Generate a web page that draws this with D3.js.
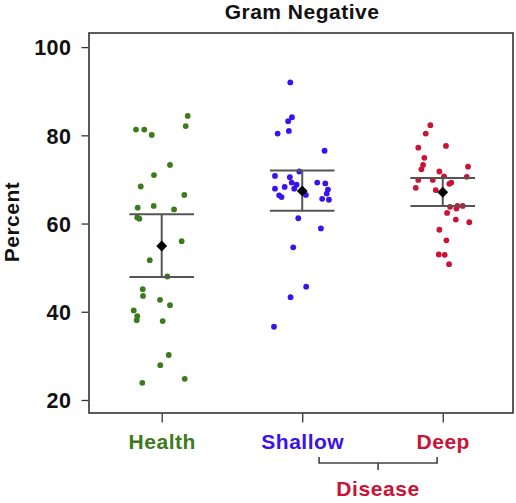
<!DOCTYPE html>
<html>
<head>
<meta charset="utf-8">
<script src="https://cdn.jsdelivr.net/npm/d3@7"></script>
<style>
  html, body { margin: 0; padding: 0; background: #fff; }
  svg { display: block; }
  text { font-family: "Liberation Sans", Arial, sans-serif; font-weight: bold; }
</style>
</head>
<body>
<svg id="chart" width="516" height="503"></svg>
<script>
const categories = ["Health", "Shallow", "Deep"];
const categoryColors = ["#3c7a1e", "#3a12ee", "#cc1236"];
const yTicks = [20, 40, 60, 80, 100];
const titleText = "Gram Negative";
const yLabel = "Percent";
const groupLabel = "Disease";

const healthValues = [84.4, 82.1, 81.3, 81.3, 80.1, 73.3, 71.0, 68.4, 66.5, 63.6, 64.0, 63.2, 61.4, 61.1, 56.0, 51.7, 48.0, 45.1, 43.6, 42.7, 41.5, 40.3, 39.0, 38.1, 37.9, 30.2, 27.9, 24.8, 23.9];
const healthJitter = [0.185, 0.171, -0.183, -0.124, -0.071, 0.059, -0.055, -0.149, 0.161, -0.171, -0.057, 0.088, -0.174, -0.159, 0.142, -0.085, 0.040, -0.135, -0.133, -0.012, 0.059, -0.199, -0.174, -0.178, 0.007, 0.050, -0.010, 0.164, -0.138];

const shallowValues = [92.0, 84.1, 83.2, 81.0, 80.4, 76.5, 71.8, 70.8, 70.5, 69.3, 69.3, 69.1, 68.3, 68.8, 67.9, 67.9, 67.7, 66.8, 66.4, 66.0, 66.5, 65.6, 65.4, 61.2, 58.9, 54.6, 45.7, 43.3, 36.6];
const shallowJitter = [-0.085, -0.073, -0.100, -0.095, -0.175, 0.159, -0.021, -0.194, -0.088, -0.075, 0.107, 0.164, -0.125, -0.040, -0.194, -0.057, 0.183, 0.174, -0.164, -0.147, 0.026, 0.142, 0.190, -0.028, 0.133, -0.064, 0.028, -0.083, -0.201];

const deepValues = [82.3, 80.4, 77.6, 77.2, 74.9, 73.3, 72.3, 72.9, 71.8, 70.7, 70.6, 69.9, 69.9, 69.3, 69.0, 68.1, 67.6, 63.8, 64.0, 63.4, 64.0, 62.4, 60.9, 60.3, 58.6, 56.2, 53.0, 52.9, 50.8];
const deepJitter = [-0.088, -0.121, 0.023, -0.174, -0.131, -0.140, -0.152, 0.180, -0.024, 0.009, 0.171, -0.174, -0.071, 0.061, 0.047, -0.192, -0.050, 0.052, 0.104, 0.097, 0.142, 0.031, 0.093, 0.189, -0.024, 0.026, -0.028, 0.014, 0.045];

const meanValues = [54.9, 67.4, 67.1];
const lowerValues = [47.9, 62.9, 64.0];
const upperValues = [62.1, 72.0, 70.3];

const groupValues = [healthValues, shallowValues, deepValues];
const groupJitter = [healthJitter, shallowJitter, deepJitter];

(function () {
const svg = d3.select("#chart");
const pLeft = 89, pRight = 513, pTop = 33, pBottom = 413;

const x = d3.scaleLinear().domain([0.4826, 3.5]).range([pLeft, pRight]);
const y = d3.scaleLinear().domain([17.05, 103.2]).range([pBottom, pTop]);

// Title
svg.append("text")
  .attr("x", 302).attr("y", 19)
  .attr("text-anchor", "middle")
  .attr("font-size", 21)
  .attr("letter-spacing", 0.5)
  .attr("fill", "#111")
  .text(titleText);

// Y axis
const yAxis = d3.axisLeft(y).tickValues(yTicks).tickSize(7).tickPadding(6).tickFormat(d3.format("d"));
const gy = svg.append("g").attr("transform", `translate(${pLeft - 0.5},0)`).call(yAxis);
gy.select(".domain").remove();
gy.selectAll(".tick line").attr("stroke", "#333").attr("stroke-width", 1.3);
gy.selectAll(".tick text")
  .attr("font-size", 21.5)
  .attr("letter-spacing", 0.5)
  .attr("fill", "#111")
  .attr("font-family", "Liberation Sans, Arial, sans-serif")
  .attr("font-weight", "bold")
  .attr("dy", "0.36em")
  .attr("x", -17);

// X axis
const xAxis = d3.axisBottom(x).tickValues([1, 2, 3]).tickSize(9).tickPadding(10).tickFormat((d, i) => categories[i]);
const gx = svg.append("g").attr("transform", `translate(0,${pBottom + 0.5})`).call(xAxis);
gx.select(".domain").remove();
gx.selectAll(".tick line").attr("stroke", "#333").attr("stroke-width", 1.3);
gx.selectAll(".tick text")
  .attr("font-size", 21)
  .attr("letter-spacing", 0.5)
  .attr("font-family", "Liberation Sans, Arial, sans-serif")
  .attr("font-weight", "bold")
  .attr("fill", (d, i) => categoryColors[i])
  .attr("dy", "0")
  .attr("y", 35);

// Frame
svg.append("rect")
  .attr("x", pLeft).attr("y", pTop)
  .attr("width", pRight - pLeft).attr("height", pBottom - pTop)
  .attr("fill", "none").attr("stroke", "#333").attr("stroke-width", 1.6);

// Y label
svg.append("text")
  .attr("transform", `translate(18.5,222) rotate(-90)`)
  .attr("text-anchor", "middle")
  .attr("font-size", 21)
  .attr("letter-spacing", 0.5)
  .attr("fill", "#111")
  .text(yLabel);

// Points
groupValues.forEach((vals, gi) => {
  svg.append("g").selectAll("circle")
    .data(vals)
    .join("circle")
    .attr("cx", (d, i) => x(gi + 1 + groupJitter[gi][i]))
    .attr("cy", d => y(d))
    .attr("r", 2.9)
    .attr("fill", categoryColors[gi]);
});

// Error bars
const capHalf = 0.23;
const eb = svg.append("g");
categories.forEach((c, i) => {
  const cx = i + 1;
  eb.append("line")
    .attr("x1", x(cx)).attr("x2", x(cx))
    .attr("y1", y(upperValues[i])).attr("y2", y(lowerValues[i]))
    .attr("stroke", "#555").attr("stroke-width", 2);
  [upperValues[i], lowerValues[i]].forEach(v => {
    eb.append("line")
      .attr("x1", x(cx - capHalf)).attr("x2", x(cx + capHalf))
      .attr("y1", y(v)).attr("y2", y(v))
      .attr("stroke", "#555").attr("stroke-width", 2);
  });
  eb.append("path")
    .attr("d", d3.symbol(d3.symbolDiamond2, 75)())
    .attr("transform", `translate(${x(cx)},${y(meanValues[i])})`)
    .attr("fill", "#000");
});

// Disease bracket (under Shallow and Deep)
const bx1 = x(2.12), bx2 = x(2.96), bmid = x(2.54);
const by = 463, byTop = 457, byBot = 470;
svg.append("path")
  .attr("d", `M${bx1},${byTop} L${bx1},${by} L${bx2},${by} L${bx2},${byTop} M${bmid},${by} L${bmid},${byBot}`)
  .attr("fill", "none").attr("stroke", "#444").attr("stroke-width", 1.6);
svg.append("text")
  .attr("x", bmid).attr("y", 496)
  .attr("text-anchor", "middle")
  .attr("font-size", 21)
  .attr("letter-spacing", 0.6)
  .attr("fill", categoryColors[2])
  .text(groupLabel);
})();
</script>
</body>
</html>
